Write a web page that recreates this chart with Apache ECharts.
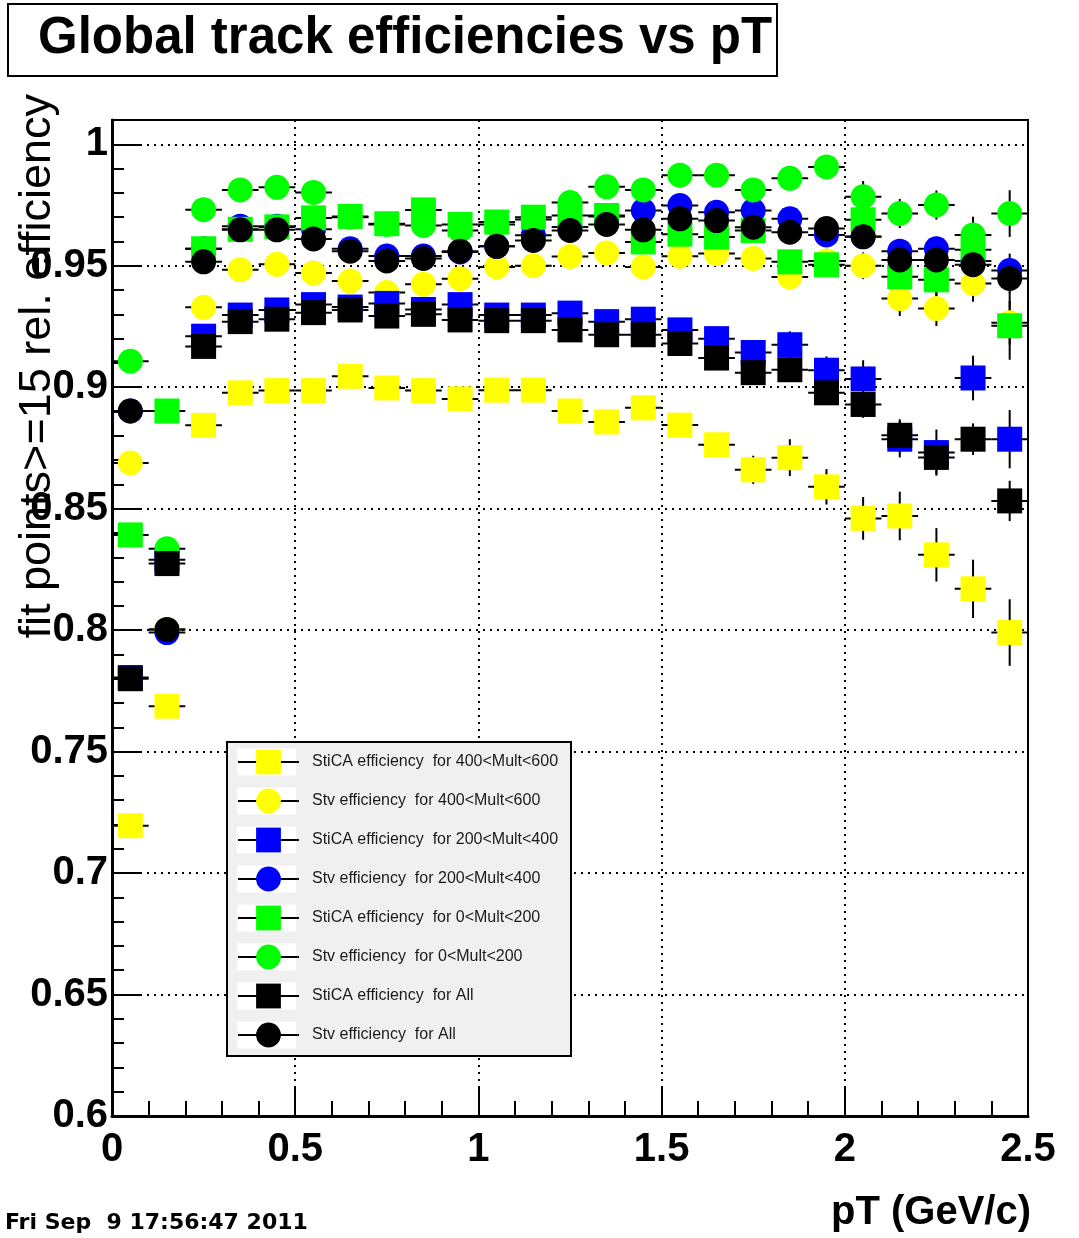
<!DOCTYPE html>
<html>
<head>
<meta charset="utf-8">
<title>Global track efficiencies vs pT</title>
<script src="https://cdn.jsdelivr.net/npm/echarts@6/dist/echarts.min.js"></script>
<style>
  html, body { margin: 0; padding: 0; background: #ffffff; }
  #chart { width: 1079px; height: 1238px; }
</style>
</head>
<body>
<div id="chart"></div>
<script>
// pT bin centres (GeV/c), bin width 0.1
const ptBins = [0.05, 0.15, 0.25, 0.35, 0.45, 0.55, 0.65, 0.75, 0.85, 0.95, 1.05, 1.15, 1.25,
                1.35, 1.45, 1.55, 1.65, 1.75, 1.85, 1.95, 2.05, 2.15, 2.25, 2.35, 2.45];
const binHalfWidth = 0.05;

// StiCA, 400 < Mult < 600
const stica400 = [0.7195, 0.7687, 0.8843, 0.8977, 0.8986, 0.8986, 0.9045, 0.8997, 0.8986, 0.8952, 0.8988, 0.8988, 0.8902,
                  0.8857, 0.8915, 0.8844, 0.8763, 0.8660, 0.8710, 0.8590, 0.8460, 0.8470, 0.8310, 0.8170, 0.7990];
const stica400Err = [0.003, 0.003, 0.002, 0.002, 0.002, 0.002, 0.002, 0.002, 0.002, 0.002, 0.002, 0.002, 0.003,
                     0.003, 0.003, 0.004, 0.004, 0.0058, 0.0076, 0.0073, 0.0088, 0.0100, 0.0110, 0.0120, 0.0137];
// Stv, 400 < Mult < 600
const stv400 = [0.8688, 0.8003, 0.9329, 0.9484, 0.9506, 0.9470, 0.9437, 0.9390, 0.9424, 0.9447, 0.9495, 0.9500, 0.9538,
                0.9553, 0.9495, 0.9539, 0.9550, 0.9530, 0.9454, 0.9520, 0.9500, 0.9365, 0.9324, 0.9427, 0.9265];
const stv400Err = [0.003, 0.003, 0.002, 0.002, 0.002, 0.002, 0.002, 0.002, 0.002, 0.002, 0.002, 0.002, 0.003,
                   0.003, 0.003, 0.003, 0.003, 0.004, 0.0045, 0.005, 0.0055, 0.0072, 0.0072, 0.0075, 0.0090];
// StiCA, 200 < Mult < 400
const stica200 = [0.7805, 0.8290, 0.9210, 0.9297, 0.9318, 0.9340, 0.9330, 0.9345, 0.9320, 0.9340, 0.9297, 0.9297, 0.9305,
                  0.9270, 0.9280, 0.9236, 0.9200, 0.9143, 0.9175, 0.9070, 0.9034, 0.8786, 0.8731, 0.9038, 0.8786];
const stica200Err = [0.003, 0.003, 0.002, 0.002, 0.002, 0.002, 0.002, 0.002, 0.002, 0.002, 0.002, 0.002, 0.003,
                     0.003, 0.003, 0.003, 0.003, 0.004, 0.0055, 0.0057, 0.0077, 0.0075, 0.0095, 0.0092, 0.0120];
// Stv, 200 < Mult < 400
const stv200 = [0.8902, 0.7990, 0.9570, 0.9663, 0.9663, 0.9650, 0.9570, 0.9540, 0.9540, 0.9557, 0.9580, 0.9626, 0.9660,
                0.9703, 0.9727, 0.9748, 0.9720, 0.9727, 0.9693, 0.9627, 0.9620, 0.9560, 0.9570, 0.9520, 0.9480];
const stv200Err = [0.003, 0.003, 0.002, 0.002, 0.002, 0.002, 0.002, 0.002, 0.002, 0.002, 0.002, 0.002, 0.002,
                   0.002, 0.002, 0.003, 0.003, 0.003, 0.003, 0.004, 0.0045, 0.0050, 0.0050, 0.0060, 0.0070];
// StiCA, 0 < Mult < 200
const stica0 = [0.8392, 0.8902, 0.9570, 0.9650, 0.9660, 0.9697, 0.9703, 0.9673, 0.9730, 0.9670, 0.9680, 0.9700, 0.9707,
                0.9707, 0.9598, 0.9630, 0.9618, 0.9645, 0.9516, 0.9504, 0.9689, 0.9455, 0.9442, 0.9566, 0.9253];
const stica0Err = [0.003, 0.003, 0.002, 0.002, 0.002, 0.002, 0.002, 0.002, 0.002, 0.002, 0.002, 0.002, 0.003,
                   0.003, 0.003, 0.003, 0.003, 0.004, 0.0045, 0.005, 0.0055, 0.0060, 0.0070, 0.0080, 0.0140];
// Stv, 0 < Mult < 200
const stv0 = [0.9107, 0.8335, 0.9731, 0.9812, 0.9823, 0.9802, 0.9700, 0.9670, 0.9666, 0.9645, 0.9670, 0.9690, 0.9760,
              0.9825, 0.9812, 0.9873, 0.9873, 0.9812, 0.9860, 0.9907, 0.9784, 0.9715, 0.9750, 0.9627, 0.9715];
const stv0Err = [0.003, 0.003, 0.002, 0.002, 0.002, 0.002, 0.002, 0.002, 0.002, 0.002, 0.002, 0.002, 0.002,
                 0.002, 0.002, 0.003, 0.003, 0.003, 0.003, 0.004, 0.0065, 0.0060, 0.0060, 0.0075, 0.0096];
// StiCA, all multiplicities
const sticaAll = [0.7800, 0.8274, 0.9168, 0.9270, 0.9280, 0.9307, 0.9318, 0.9293, 0.9300, 0.9277, 0.9274, 0.9274, 0.9236,
                  0.9216, 0.9216, 0.9180, 0.9120, 0.9060, 0.9072, 0.8977, 0.8929, 0.8802, 0.8711, 0.8786, 0.8532];
const sticaAllErr = [0.002, 0.002, 0.002, 0.002, 0.002, 0.002, 0.002, 0.002, 0.002, 0.002, 0.002, 0.002, 0.002,
                     0.002, 0.002, 0.003, 0.003, 0.003, 0.004, 0.0050, 0.0055, 0.0066, 0.0070, 0.0065, 0.0083];
// Stv, all multiplicities
const stvAll = [0.8902, 0.8003, 0.9516, 0.9648, 0.9648, 0.9610, 0.9560, 0.9520, 0.9530, 0.9560, 0.9580, 0.9604, 0.9645,
                0.9670, 0.9648, 0.9693, 0.9686, 0.9659, 0.9638, 0.9653, 0.9619, 0.9524, 0.9524, 0.9504, 0.9448];
const stvAllErr = [0.002, 0.002, 0.002, 0.002, 0.002, 0.002, 0.002, 0.002, 0.002, 0.002, 0.002, 0.002, 0.002,
                   0.002, 0.002, 0.002, 0.002, 0.003, 0.003, 0.003, 0.004, 0.0045, 0.0050, 0.0055, 0.0060];

// Legend labels, in drawing order
const seriesNames = [
  'StiCA efficiency  for 400<Mult<600',
  'Stv efficiency  for 400<Mult<600',
  'StiCA efficiency  for 200<Mult<400',
  'Stv efficiency  for 200<Mult<400',
  'StiCA efficiency  for 0<Mult<200',
  'Stv efficiency  for 0<Mult<200',
  'StiCA efficiency  for All',
  'Stv efficiency  for All'
];
const seriesValues = [stica400, stv400, stica200, stv200, stica0, stv0, sticaAll, stvAll];
const seriesErrors = [stica400Err, stv400Err, stica200Err, stv200Err, stica0Err, stv0Err, sticaAllErr, stvAllErr];
const seriesColors = ['#ffff00', '#ffff00', '#0000ff', '#0000ff', '#00ff00', '#00ff00', '#000000', '#000000'];
const seriesSymbols = ['rect', 'circle', 'rect', 'circle', 'rect', 'circle', 'rect', 'circle'];

// Axis tick labels
const xTickLabels = ['0', '0.5', '1', '1.5', '2', '2.5'];
const yTickLabels = ['0.6', '0.65', '0.7', '0.75', '0.8', '0.85', '0.9', '0.95', '1'];

const FONT = '"Liberation Sans", Arial, Helvetica, sans-serif';

// Error bars: horizontal over the bin width, vertical over +/- error
function errorBarSeries(idx) {
  return {
    type: 'custom',
    name: 'errors ' + idx,
    silent: true,
    animation: false,
    data: ptBins.map((x, i) => [x, seriesValues[idx][i], seriesErrors[idx][i]]),
    encode: { x: 0, y: 1 },
    renderItem: function (params, api) {
      const x = api.value(0), y = api.value(1), e = api.value(2);
      const left = api.coord([x - binHalfWidth, y]);
      const right = api.coord([x + binHalfWidth, y]);
      const top = api.coord([x, y + e]);
      const bottom = api.coord([x, y - e]);
      const st = { stroke: '#000000', lineWidth: 2 };
      return {
        type: 'group',
        children: [
          { type: 'line', shape: { x1: left[0], y1: left[1], x2: right[0], y2: right[1] }, style: st },
          { type: 'line', shape: { x1: top[0], y1: top[1], x2: bottom[0], y2: bottom[1] }, style: st }
        ]
      };
    }
  };
}

function markerSeries(idx) {
  return {
    type: 'line',
    name: seriesNames[idx],
    data: ptBins.map((x, i) => [x, seriesValues[idx][i]]),
    symbol: seriesSymbols[idx],
    symbolSize: 25,
    showSymbol: true,
    itemStyle: { color: seriesColors[idx], opacity: 1 },
    lineStyle: { opacity: 0, width: 0 },
    emphasis: { disabled: true },
    silent: true,
    animation: false
  };
}

// Error bars of each graph are drawn just before its markers
const series = [];
seriesNames.forEach((n, i) => { series.push(errorBarSeries(i)); series.push(markerSeries(i)); });

// Legend geometry: rows 39 px apart, first row centred at y = 762
const legendLeft = 237, legendFirstRow = 762, legendRowStep = 39;
const legendItemH = 31, legendIconW = 61;
const legendSymbol = legendItemH * 0.8;
const legendTop = legendFirstRow - legendSymbol / 2;
const legendGap = legendRowStep - legendSymbol;
const legendWhiteBoxes = seriesNames.map((n, k) => ({
  type: 'rect',
  z: 4,
  shape: { x: legendLeft, y: legendFirstRow + k * legendRowStep - 13.5, width: legendIconW - 2, height: 27 },
  style: { fill: '#ffffff' },
  silent: true
}));

const chart = echarts.init(document.getElementById('chart'), null, { renderer: 'canvas' });
chart.setOption({
  backgroundColor: '#ffffff',
  animation: false,
  title: [
    {
      text: 'Global track efficiencies vs pT',
      left: 33, top: 8,
      textStyle: { fontFamily: FONT, fontWeight: 'bold', fontSize: 51, color: '#000000' }
    },
    {
      text: 'Fri Sep  9 17:56:47 2011',
      left: 0, top: 1207,
      textStyle: { fontFamily: '"DejaVu Sans", Verdana, sans-serif', fontWeight: 'bold', fontSize: 22, color: '#000000' }
    }
  ],
  grid: {
    left: 112, right: 51, top: 120, bottom: 122,
    containLabel: false, outerBoundsMode: 'none',
    show: true, borderColor: '#000000', borderWidth: 2, backgroundColor: 'transparent'
  },
  xAxis: {
    type: 'value', min: 0, max: 2.5, interval: 0.5,
    name: 'pT (GeV/c)', nameLocation: 'end', nameGap: 3,
    nameTextStyle: { fontFamily: FONT, fontWeight: 'bold', fontSize: 40, color: '#000000',
                     align: 'right', verticalAlign: 'top', padding: [77, 0, 0, 0] },
    axisLine: { onZero: false, lineStyle: { color: '#000000', width: 3 } },
    axisTick: { inside: true, length: 30, lineStyle: { color: '#000000', width: 2 } },
    minorTick: { show: true, splitNumber: 5, length: 15, lineStyle: { color: '#000000', width: 2 } },
    axisLabel: {
      margin: 14, fontFamily: FONT, fontWeight: 'bold', fontSize: 40, color: '#000000',
      formatter: v => xTickLabels[Math.round(v / 0.5)] ?? ''
    },
    splitLine: { show: true, lineStyle: { color: '#000000', width: 2, type: [2, 5] } }
  },
  yAxis: [
    {
      type: 'value', min: 0.6, max: 1.01, interval: 0.05,
      axisLine: { onZero: false, lineStyle: { color: '#000000', width: 3 } },
      axisTick: { inside: true, length: 28, lineStyle: { color: '#000000', width: 2 } },
      axisLabel: {
        margin: 4, fontFamily: FONT, fontWeight: 'bold', fontSize: 40, color: '#000000',
        showMaxLabel: false,
        formatter: v => {
          const k = Math.round((v - 0.6) / 0.05);
          return Math.abs(v - (0.6 + k * 0.05)) < 1e-6 ? (yTickLabels[k] ?? '') : '';
        }
      },
      splitLine: { show: true, lineStyle: { color: '#000000', width: 2, type: [2, 5] } }
    },
    {
      // minor ticks every 0.01
      type: 'value', min: 0.6, max: 1.01, interval: 0.01, position: 'left',
      axisLine: { show: false },
      axisTick: { inside: true, length: 12, lineStyle: { color: '#000000', width: 2 } },
      axisLabel: { show: false },
      splitLine: { show: false }
    }
  ],
  legend: {
    data: seriesNames,
    orient: 'vertical',
    left: legendLeft, top: legendTop,
    itemWidth: legendIconW, itemHeight: legendItemH, itemGap: legendGap,
    padding: 0,
    selectedMode: false,
    z: 6,
    lineStyle: { color: '#000000', width: 2, opacity: 1 },
    textStyle: { fontFamily: FONT, fontSize: 16, color: '#1a1a1a', padding: [0, 0, 0, 8] }
  },
  graphic: [
    // title frame
    {
      type: 'rect', z: 5, silent: true,
      shape: { x: 8, y: 4, width: 769, height: 72 },
      style: { fill: 'transparent', stroke: '#000000', lineWidth: 2 }
    },
    // legend frame
    {
      type: 'rect', z: 3, silent: true,
      shape: { x: 227, y: 742, width: 344, height: 314 },
      style: { fill: '#f0f0f0', stroke: '#000000', lineWidth: 2 }
    },
    ...legendWhiteBoxes,
    // y axis title
    {
      type: 'text', z: 5, silent: true,
      x: 38, y: 94, rotation: Math.PI / 2,
      style: {
        text: 'fit points>=15 rel. efficiency',
        font: '45px "Liberation Sans", Arial, sans-serif',
        fill: '#000000',
        align: 'right', verticalAlign: 'middle',
        textAlign: 'right', textVerticalAlign: 'middle'
      }
    }
  ],
  series: series
});
</script>
</body>
</html>
